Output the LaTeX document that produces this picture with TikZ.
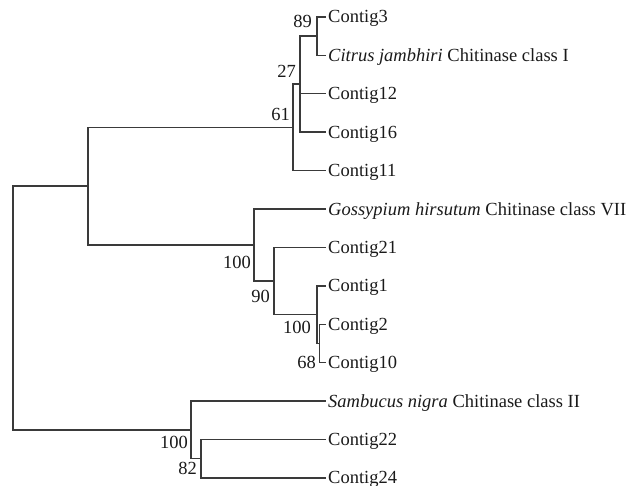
\documentclass[tikz,border=0pt]{standalone}
\usepackage{fontspec}
\setmainfont{Liberation Serif}
\definecolor{branch}{HTML}{3A3A3A}
\definecolor{ink}{HTML}{1A1A1A}
\begin{document}
\begin{tikzpicture}[x=1pt,y=-1pt,
  branchline/.style={draw=branch,line width=1.4pt,line cap=rect},
  leaf/.style={anchor=base west,inner sep=0pt,text=ink,font=\fontsize{18.5}{22}\selectfont},
  lab/.style={anchor=base east,inner sep=0pt,text=ink,font=\fontsize{18.5}{22}\selectfont}]
\useasboundingbox (0,0) rectangle (639,486);
% leaf ends
\coordinate (e0) at (325,17);
\coordinate (e1) at (325,55.4);
\coordinate (e2) at (325,93.8);
\coordinate (e3) at (325,132.2);
\coordinate (e4) at (325,170.6);
\coordinate (e5) at (325,209);
\coordinate (e6) at (325,247.4);
\coordinate (e7) at (325,285.8);
\coordinate (e8) at (325,324.2);
\coordinate (e9) at (325,362.6);
\coordinate (e10) at (325,401);
\coordinate (e11) at (325,439.4);
\coordinate (e12) at (325,477.8);
% leaf labels
\node[leaf] (t0) at (328,23) {Contig3};
\node[leaf] (t1) at (328,61.4) {\textit{Citrus jambhiri} Chitinase class I};
\node[leaf] (t2) at (328,99.8) {Contig12};
\node[leaf] (t3) at (328,138.2) {Contig16};
\node[leaf] (t4) at (328,176.6) {Contig11};
\node[leaf] (t5) at (328,215) {\textit{Gossypium hirsutum} Chitinase class VII};
\node[leaf] (t6) at (328,253.4) {Contig21};
\node[leaf] (t7) at (328,291.8) {Contig1};
\node[leaf] (t8) at (328,330.2) {Contig2};
\node[leaf] (t9) at (328,368.6) {Contig10};
\node[leaf] (t10) at (328,407) {\textit{Sambucus nigra} Chitinase class II};
\node[leaf] (t11) at (328,445.4) {Contig22};
\node[leaf] (t12) at (328,483.8) {Contig24};
% internal nodes
\coordinate (n89) at (317,36.2);
\coordinate (n27) at (300,84.2);
\coordinate (n61) at (293,127.4);
\coordinate (n68) at (319.5,343.4);
\coordinate (n100b) at (317,314.6);
\coordinate (n90) at (274,281);
\coordinate (n100a) at (254,245);
\coordinate (nA) at (88,186.2);
\coordinate (n82) at (201,458.6);
\coordinate (n100c) at (191,429.8);
\coordinate (root) at (13,308);
% branches
\draw[branchline] (n89) |- (e0);
\draw[branchline] (n89) |- (e1);
\draw[branchline] (n27) |- (n89);
\draw[branchline] (n27) |- (e2);
\draw[branchline] (n27) |- (e3);
\draw[branchline] (n61) |- (n27);
\draw[branchline] (n61) |- (e4);
\draw[branchline] (n68) |- (e8);
\draw[branchline] (n68) |- (e9);
\draw[branchline] (n100b) |- (e7);
\draw[branchline] (n100b) |- (n68);
\draw[branchline] (n90) |- (e6);
\draw[branchline] (n90) |- (n100b);
\draw[branchline] (n100a) |- (e5);
\draw[branchline] (n100a) |- (n90);
\draw[branchline] (nA) |- (n61);
\draw[branchline] (nA) |- (n100a);
\draw[branchline] (n82) |- (e11);
\draw[branchline] (n82) |- (e12);
\draw[branchline] (n100c) |- (e10);
\draw[branchline] (n100c) |- (n82);
\draw[branchline] (root) |- (nA);
\draw[branchline] (root) |- (n100c);
% bootstrap values
\node[lab] (b89) at (312,28) {89};
\node[lab] (b27) at (296,78) {27};
\node[lab] (b61) at (290,121) {61};
\node[lab] (b100a) at (251,268) {100};
\node[lab] (b90) at (270,302) {90};
\node[lab] (b100b) at (311,333) {100};
\node[lab] (b68) at (316,368) {68};
\node[lab] (b100c) at (188,448) {100};
\node[lab] (b82) at (197,474) {82};
\end{tikzpicture}
\end{document}
